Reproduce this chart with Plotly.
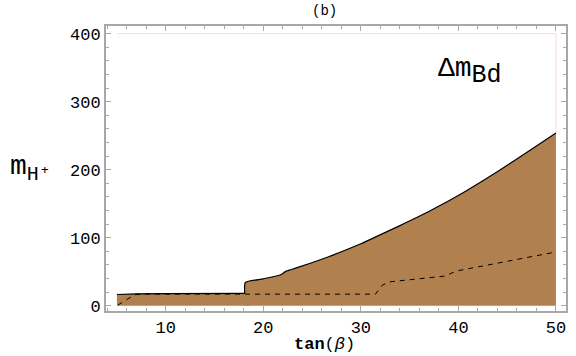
import plotly.graph_objects as go

# upper boundary of the Delta m_Bd allowed region (tan beta, m_H+)
flat_tb = [5, 7, 10, 14, 18.1]
flat_m = [16.5, 17.5, 17.8, 18, 18]
curve_tb = [18.1, 18.15, 20, 21.8, 22.3, 23.7, 26.7, 30, 31.2, 33.9, 37.3, 40.7, 44.1, 47.5, 50]
curve_m = [18, 34, 39.5, 45.5, 50.5, 57, 72, 91, 99, 117, 141, 168, 198, 230, 254]

# dashed curve
dash_tb = [5.1, 6.8, 7.5, 15, 25, 31.5, 32.2, 32.9, 38.6, 39.8, 50]
dash_m = [1, 16, 17, 17, 17, 17, 30, 35, 43.5, 51, 79]

# faint outline of the scan region
edge_tb = [5, 50, 50]
edge_m = [400, 400, 254]

x_ticks = [10, 20, 30, 40, 50]
y_ticks = [0, 100, 200, 300, 400]

fill_col = "rgb(176,129,78)"
mono = "Liberation Mono, Courier New, monospace"
grey = "#a8a8a8"

W, H = 576, 356
L, T, R, B = 106, 26, 8, 45
PW, PH = float(W - L - R), float(H - T - B)


def px(x):
    return (x - L) / PW


def py(y):
    return (H - B - y) / PH


fig = go.Figure()
fig.add_trace(go.Scatter(x=edge_tb, y=edge_m, mode="lines",
                         line=dict(color="rgb(246,222,205)", width=1), hoverinfo="skip"))
# fill under the flat part, extended a little under the curved part to hide the seam
fig.add_trace(go.Scatter(x=flat_tb + [18.6], y=flat_m + [18], mode="lines", fill="tozeroy",
                         fillcolor=fill_col, line=dict(width=0), hoverinfo="skip"))
fig.add_trace(go.Scatter(x=curve_tb, y=curve_m, mode="lines", fill="tozeroy",
                         fillcolor=fill_col, line=dict(color="black", width=1.2),
                         line_shape="spline", line_smoothing=0.5))
fig.add_trace(go.Scatter(x=flat_tb, y=flat_m, mode="lines",
                         line=dict(color="black", width=1.2)))
fig.add_trace(go.Scatter(x=dash_tb, y=dash_m, mode="lines",
                         line=dict(color="black", width=1, dash="5px,5px")))

axis_common = dict(showgrid=False, zeroline=False, showline=True, linecolor=grey,
                   linewidth=2, mirror="allticks", ticks="inside", ticklen=5,
                   tickcolor=grey, tickwidth=1,
                   tickfont=dict(family=mono, size=17, color="black"))

fig.update_layout(
    width=W, height=H,
    margin=dict(l=L, r=R, t=T, b=B),
    paper_bgcolor="white", plot_bgcolor="white",
    showlegend=False,
    xaxis=dict(range=[3.88, 51.03], tickvals=x_ticks,
               minor=dict(dtick=2, tick0=0, ticks="inside", ticklen=3, tickcolor=grey),
               **axis_common),
    yaxis=dict(range=[-7.8, 411.3], tickvals=y_ticks,
               minor=dict(dtick=20, tick0=0, ticks="inside", ticklen=3, tickcolor=grey),
               **axis_common),
    annotations=[
        dict(text="(b)", x=px(325), y=py(11), xref="paper", yref="paper",
             yanchor="middle", showarrow=False,
             font=dict(family=mono, size=14, color="black")),
        dict(text="<b>tan</b>(<i>β</i>)", x=px(325), y=py(344), xref="paper", yref="paper",
             yanchor="middle", showarrow=False,
             font=dict(family=mono, size=17, color="black")),
        dict(text="m<sub><span style='font-size:20px'>H⁺</span></sub>",
             x=px(8), y=py(168), xref="paper", yref="paper",
             xanchor="left", yanchor="middle", showarrow=False,
             font=dict(family=mono, size=28, color="black")),
        dict(text="Δm<sub><span style='font-size:25px'>Bd</span></sub>",
             x=px(437), y=py(72), xref="paper", yref="paper",
             xanchor="left", yanchor="middle", showarrow=False,
             font=dict(family=mono, size=28, color="black")),
    ],
)

fig.write_html("out.html", config={"displayModeBar": False},
               post_script="document.body.style.margin='0';")
